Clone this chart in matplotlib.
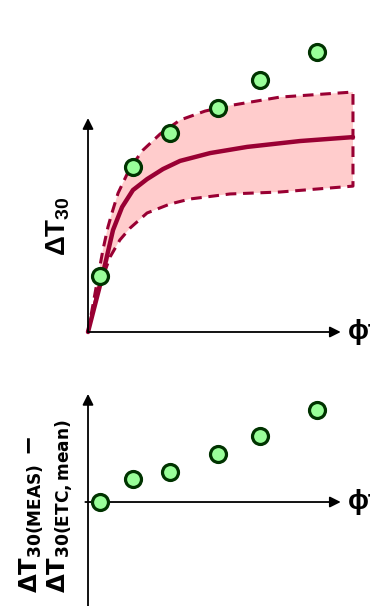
import matplotlib
matplotlib.use('Agg')
import matplotlib.pyplot as plt
import numpy as np

plt.rcParams['font.family'] = ['Liberation Sans', 'DejaVu Sans']
plt.rcParams['font.weight'] = 'bold'
plt.rcParams['mathtext.fontset'] = 'custom'
plt.rcParams['mathtext.rm'] = 'Liberation Sans:bold'
plt.rcParams['mathtext.it'] = 'Liberation Sans:bold'
plt.rcParams['mathtext.bf'] = 'Liberation Sans:bold'

# fluence phi*t (arbitrary units) of the measured points
phit_meas = [0.45, 1.68, 3.1, 4.9, 6.47, 8.6]
# measured shift dT30
dt30_meas = [20, 59, 71, 80, 90, 100]
# measured minus mean prediction
dt30_diff = [0, 8.2, 10.7, 17.1, 23.6, 32.9]

# mean prediction curve
phit_mean = [0, 0.53, 0.94, 1.28, 1.69, 2.22, 2.82, 3.46, 4.59, 5.98, 7.97, 9.96]
dt30_mean = [0, 19.6, 36.4, 44.6, 50.7, 54.6, 58.2, 61.1, 63.9, 66.1, 68.2, 69.6]

# upper bound of the scatter band
phit_up = [0, 0.56, 0.75, 0.90, 1.13, 1.58, 2.07, 2.71, 3.46, 4.40, 5.23, 7.22, 9.96]
dt30_up = [0, 29.3, 37.5, 42.5, 49.6, 58.6, 65.0, 70.7, 75.7, 78.9, 80.7, 83.9, 85.7]

# lower bound of the scatter band
phit_lo = [0, 0.34, 0.83, 1.20, 1.58, 2.22, 3.08, 3.83, 5.34, 7.22, 9.96]
dt30_lo = [0, 13.9, 26.8, 32.9, 37.1, 42.5, 45.7, 47.5, 49.3, 50.0, 52.1]

curve_col = '#990033'
band_col = '#ffcccc'
pt_face = '#99ff99'
pt_edge = '#003300'

fig = plt.figure(figsize=(3.7, 6.06), dpi=100)

ax1 = fig.add_axes([0, 256 / 606, 1, 350 / 606])
ax1.set_xlim(-3.308, 10.60)
ax1.set_ylim(-6.43, 118.57)
ax1.axis('off')

ax2 = fig.add_axes([0, 0, 1, 256 / 606])
ax2.set_xlim(-3.308, 10.60)
ax2.set_ylim(-37.14, 54.29)
ax2.axis('off')

arrow = dict(arrowstyle='-|>', mutation_scale=16, lw=1.3, color='black',
             shrinkA=0, shrinkB=0)

# top panel
band_x = np.concatenate([phit_up, phit_lo[::-1]])
band_y = np.concatenate([dt30_up, dt30_lo[::-1]])
ax1.fill(band_x, band_y, color=band_col, lw=0, zorder=1)
ax1.plot(band_x, band_y, color=curve_col, lw=2.2, ls=(0, (3.5, 2.2)), zorder=2,
         solid_joinstyle='round', dash_joinstyle='round')
ax1.plot(phit_mean, dt30_mean, color=curve_col, lw=3.2, zorder=3,
         solid_capstyle='round', solid_joinstyle='round')
ax1.annotate('', xy=(0, 76.4), xytext=(0, 0), arrowprops=arrow, zorder=4)
ax1.annotate('', xy=(9.5, 0), xytext=(0, 0), arrowprops=arrow, zorder=4)
ax1.plot(phit_meas, dt30_meas, 'o', ms=11.5, mfc=pt_face, mec=pt_edge,
         mew=2.3, zorder=5)
ax1.text(9.77, 0, 'ϕt', fontsize=20, fontweight='bold', ha='left',
         va='center', clip_on=False)

# bottom panel
ax2.annotate('', xy=(0, 38.6), xytext=(0, -37.14), arrowprops=arrow)
ax2.annotate('', xy=(9.5, 0), xytext=(-0.1, 0), arrowprops=arrow)
ax2.plot(phit_meas, dt30_diff, 'o', ms=11.5, mfc=pt_face, mec=pt_edge,
         mew=2.3, zorder=5)
ax2.text(9.77, 0, 'ϕt', fontsize=20, fontweight='bold', ha='left',
         va='center', clip_on=False)

# axis labels
fig.text(58.5 / 370, 1 - 226 / 606, r'$\Delta T_{30}$', fontsize=20,
         rotation=90, ha='center', va='center')
lab_font = dict(fontsize=17.5, rotation=90, ha='center', va='bottom',
                math_fontfamily='dejavusans')
fig.text(32 / 370, 1 - 593 / 606, r'$\mathbf{\Delta T_{30(MEAS)}}$ −',
         family=['DejaVu Sans'], **lab_font)
fig.text(60 / 370, 1 - 593 / 606, r'$\mathbf{\Delta T_{30(ETC,mean)}}$',
         family=['DejaVu Sans'], **lab_font)

fig.savefig('out.png', dpi=100)
